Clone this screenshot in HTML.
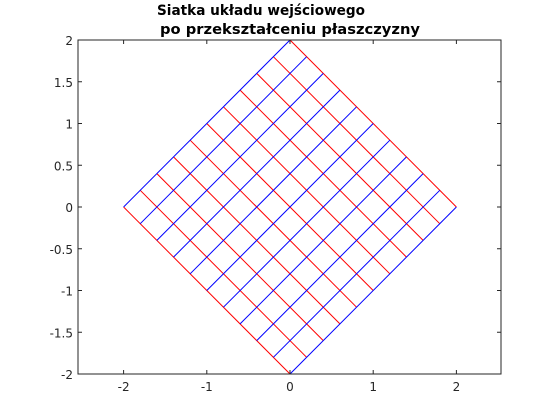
<!DOCTYPE html>
<html><head><meta charset="utf-8"><style>body{margin:0;background:#fff}svg{display:block}</style></head>
<body>
<svg id="c" width="560" height="420" xmlns="http://www.w3.org/2000/svg" font-family="Liberation Sans, sans-serif">
<rect width="560" height="420" fill="#fff"/>
<text x="157" y="15" font-size="14" font-weight="bold" font-family="DejaVu Sans, sans-serif" textLength="208" lengthAdjust="spacingAndGlyphs">Siatka układu wejściowego</text>
<text x="160" y="34" font-size="14" font-weight="bold" font-family="DejaVu Sans, sans-serif" textLength="260" lengthAdjust="spacingAndGlyphs">po przekształceniu płaszczyzny</text>
<g id="grid"></g>
<g id="axes"></g>
</svg>
<script>
const gridValues = [-1,-0.8,-0.6,-0.4,-0.2,0,0.2,0.4,0.6,0.8,1];
const xTicks = [-2,-1,0,1,2];
const yTicks = [-2,-1.5,-1,-0.5,0,0.5,1,1.5,2];
const yTickLabels = ['-2','-1.5','-1','-0.5','0','0.5','1','1.5','2'];
const L=78,R=501,T=40,B=374;
const sx=v=>290+v*83.2;
const sy=v=>207-v*83.5;
const NS='http://www.w3.org/2000/svg';
const grid=document.getElementById('grid'), axes=document.getElementById('axes');
function line(p,x1,y1,x2,y2,col,name){const l=document.createElementNS(NS,'line');
l.setAttribute('x1',x1);l.setAttribute('y1',y1);l.setAttribute('x2',x2);l.setAttribute('y2',y2);
l.setAttribute('stroke',col);l.setAttribute('stroke-width','1');


p.appendChild(l);}
// transform (u,v) -> (u - v, u + v)
const tf=(u,v)=>[u-v,u+v];
gridValues.forEach(u=>{ // constant u: red (direction 1,-1)
  const a=tf(u,-1),b=tf(u,1);
  line(grid,sx(a[0]),sy(a[1]),sx(b[0]),sy(b[1]),'#ff0000','red-grid-line');
});
gridValues.forEach(v=>{ // constant v: blue (direction 1,1)
  const a=tf(-1,v),b=tf(1,v);
  line(grid,sx(a[0]),sy(a[1]),sx(b[0]),sy(b[1]),'#0000ff','blue-grid-line');
});
const box=document.createElementNS(NS,'rect');
box.setAttribute('x',L);box.setAttribute('y',T);box.setAttribute('width',R-L);box.setAttribute('height',B-T);
box.setAttribute('fill','none');box.setAttribute('stroke','#262626');


axes.appendChild(box);
function txt(x,y,s,anchor,name){const t=document.createElementNS(NS,'text');
t.setAttribute('x',x);t.setAttribute('y',y);t.setAttribute('font-size','12');t.setAttribute('fill','#262626');
t.setAttribute('font-family','DejaVu Sans, sans-serif');
t.setAttribute('text-anchor',anchor);t.textContent=s;


axes.appendChild(t);}
xTicks.forEach(v=>{const x=sx(v);
  line(axes,x,B,x,B-4,'#262626','x-tick');line(axes,x,T,x,T+4,'#262626','x-tick-top');
  txt(x,391,String(v),'middle','x-tick-label');});
yTicks.forEach((v,i)=>{const y=sy(v);
  line(axes,L,y,L+4,y,'#262626','y-tick');line(axes,R,y,R-4,y,'#262626','y-tick-right');
  txt(L-5,y+5,yTickLabels[i],'end','y-tick-label');});
</script>
</body></html>
